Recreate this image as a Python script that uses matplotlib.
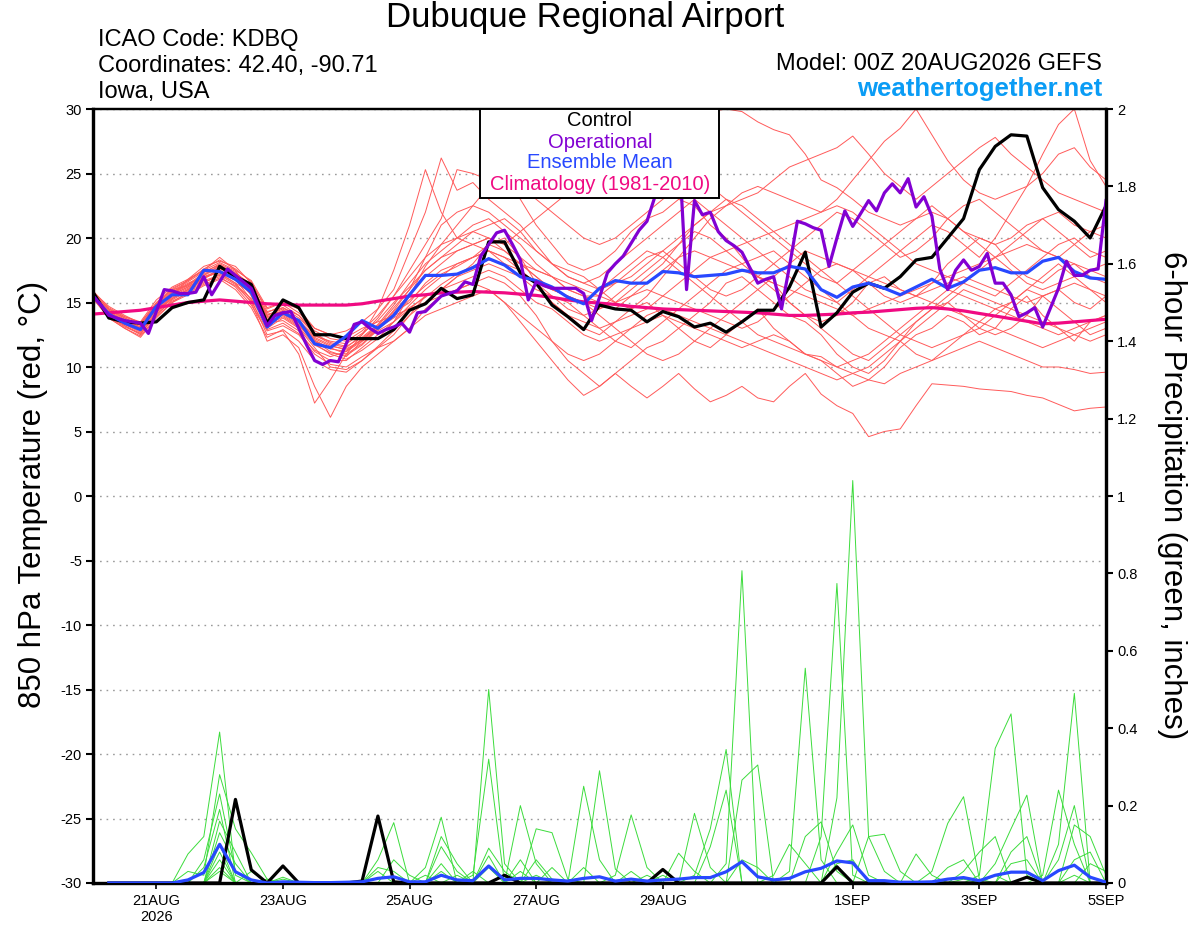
import matplotlib
matplotlib.use('Agg')
import matplotlib.pyplot as plt
from matplotlib.patches import Rectangle
import numpy as np
import pandas as pd

plt.rcParams['font.family'] = ['Liberation Sans', 'DejaVu Sans']

# time axes: 6-hourly ensemble, 3-hourly operational run
t6 = pd.date_range('2026-08-20 00:00', periods=65, freq='6h')
t3 = pd.date_range('2026-08-20 00:00', periods=129, freq='3h')
tp = t6[1:]

tick_dates = pd.to_datetime(['2026-08-21', '2026-08-23', '2026-08-25', '2026-08-27',
                             '2026-08-29', '2026-09-01', '2026-09-03', '2026-09-05'])
tick_labels = ['21AUG\n2026', '23AUG', '25AUG', '27AUG', '29AUG', '1SEP', '3SEP', '5SEP']

# 850 hPa temperature (C)
control_t = [15.8, 13.8, 13.5, 13.4, 13.5, 14.6, 15.0, 15.2, 17.8, 17.0, 16.4, 13.4, 15.2,
             14.6, 12.5, 12.5, 12.2, 12.2, 12.2, 12.9, 14.4, 14.9, 16.1, 15.3, 15.6, 19.7,
             19.7, 17.3, 16.5, 14.8, 13.9, 12.9, 14.8, 14.5, 14.4, 13.5, 14.3, 13.9, 13.1,
             13.4, 12.7, 13.5, 14.4, 14.4, 16.2, 18.9, 13.1, 14.2, 15.8, 16.5, 16.1, 17.0,
             18.3, 18.5, 20.0, 21.5, 25.3, 27.1, 28.0, 27.9, 23.9, 22.2, 21.3, 20.0, 22.5]

mean_t = [15.5, 14.1, 13.4, 12.9, 14.7, 15.6, 15.6, 17.5, 17.4, 16.8, 15.8, 13.1, 14.2,
          13.6, 11.8, 11.5, 12.4, 13.6, 13.0, 14.0, 15.6, 17.1, 17.1, 17.2, 17.7, 18.4,
          17.9, 17.0, 16.7, 16.2, 15.4, 14.9, 16.1, 16.7, 16.5, 16.5, 17.4, 17.3, 17.0,
          17.1, 17.2, 17.5, 17.3, 17.3, 17.8, 17.6, 16.0, 15.4, 16.2, 16.5, 16.1, 15.6,
          16.2, 16.8, 16.1, 16.6, 17.5, 17.7, 17.3, 17.3, 18.2, 18.5, 17.4, 16.9, 16.8]

clim_t = [14.1, 14.2, 14.3, 14.4, 14.6, 14.8, 15.0, 15.1, 15.2, 15.1, 15.0, 14.9, 14.85,
          14.8, 14.8, 14.8, 14.8, 14.9, 15.1, 15.3, 15.5, 15.6, 15.75, 15.8, 15.85, 15.8,
          15.75, 15.65, 15.55, 15.4, 15.2, 15.05, 14.95, 14.85, 14.7, 14.6, 14.5, 14.45, 14.4,
          14.35, 14.3, 14.25, 14.2, 14.1, 14.0, 14.0, 14.05, 14.1, 14.2, 14.25, 14.35, 14.45,
          14.55, 14.6, 14.5, 14.35, 14.15, 13.95, 13.75, 13.55, 13.35, 13.4, 13.5, 13.6, 13.7]

oper_t = [15.5, 14.8, 14.0, 13.8, 13.6, 13.5, 13.4, 12.6, 14.3, 16.0,
          15.9, 15.7, 15.7, 15.8, 17.0, 15.6, 16.6, 17.6, 17.1, 16.6,
          16.1, 14.6, 13.2, 14.0, 14.2, 14.3, 13.0, 11.7, 10.5, 10.2,
          10.5, 10.4, 11.8, 13.3, 13.5, 13.0, 12.6, 12.9, 13.1, 13.4,
          12.7, 14.2, 14.3, 14.9, 15.5, 15.7, 15.9, 16.6, 16.4, 18.6,
          19.5, 20.4, 20.6, 19.5, 18.3, 15.2, 16.6, 16.3, 16.1, 16.1,
          16.1, 16.1, 15.7, 13.6, 15.4, 17.3, 18.0, 18.6, 19.6, 20.6,
          21.3, 23.2, 25.5, 27.0, 27.5, 16.0, 22.9, 21.8, 22.0, 20.5,
          19.8, 19.4, 18.9, 17.7, 16.5, 16.8, 17.0, 14.5, 17.8, 21.3,
          21.1, 20.8, 20.6, 17.8, 20.0, 22.1, 20.9, 21.9, 22.9, 22.1,
          23.5, 24.2, 23.5, 24.6, 22.4, 23.2, 21.7, 17.6, 16.0, 17.5,
          18.3, 17.5, 17.8, 18.8, 16.5, 16.5, 15.6, 13.9, 14.2, 14.6,
          13.1, 14.6, 16.1, 18.2, 17.1, 17.1, 17.5, 17.6, 22.9]

members_t = [
    [15.8, 14.5, 13.8, 13.2, 14.9, 16.0, 16.3, 17.2, 17.8, 17.0, 16.0, 14.0, 14.5,
     13.5, 12.0, 11.2, 10.8, 12.0, 12.8, 13.5, 15.5, 17.8, 19.5, 21.0, 22.5, 24.0,
     24.5, 23.0, 21.0, 19.5, 18.0, 17.5, 18.0, 19.0, 20.5, 21.5, 22.0, 23.0, 22.5,
     21.0, 20.0, 18.5, 17.0, 16.5, 15.0, 14.0, 13.5, 14.0, 15.0, 16.5, 17.0, 16.0,
     15.5, 16.5, 18.0, 19.0, 20.0, 19.5, 18.0, 17.0, 16.5, 17.5, 18.0, 17.0, 16.5],
    [15.6, 14.0, 13.2, 12.5, 14.2, 15.5, 16.8, 17.5, 18.5, 17.5, 15.5, 13.0, 13.8,
     13.0, 11.5, 10.0, 9.8, 10.5, 11.5, 12.5, 14.0, 15.5, 16.0, 17.0, 18.0, 19.5,
     20.0, 18.5, 16.5, 15.0, 14.0, 13.0, 12.5, 13.5, 14.5, 15.0, 14.0, 13.0, 12.0,
     11.5, 12.5, 13.5, 14.5, 13.0, 12.0, 11.0, 10.5, 9.5, 8.5, 9.0, 10.0, 11.5,
     12.5, 13.0, 14.0, 13.5, 12.5, 13.0, 14.5, 15.5, 14.0, 13.0, 12.0, 13.5, 14.0],
    [15.4, 13.8, 13.0, 12.3, 13.8, 15.0, 15.8, 16.5, 17.2, 16.5, 15.0, 12.0, 12.5,
     11.5, 8.5, 6.1, 8.5, 10.0, 11.0, 12.0, 13.0, 14.5, 15.5, 16.0, 16.5, 17.0,
     16.5, 15.5, 14.0, 12.0, 10.5, 9.5, 8.5, 9.5, 10.5, 11.5, 12.0, 13.0, 14.0,
     15.0, 16.5, 17.0, 16.0, 15.0, 14.0, 13.5, 12.5, 11.0, 10.0, 9.5, 10.5, 12.0,
     13.5, 14.5, 15.0, 14.0, 13.0, 12.5, 13.0, 14.0, 15.5, 16.0, 15.0, 14.5, 15.5],
    [15.7, 14.2, 13.5, 12.8, 14.5, 15.8, 16.5, 17.0, 17.5, 16.8, 15.2, 12.5, 12.8,
     11.0, 7.2, 9.0, 11.0, 12.5, 14.5, 17.5, 21.0, 25.3, 22.0, 20.0, 19.5, 19.0,
     18.5, 18.0, 17.5, 17.0, 16.0, 15.5, 15.5, 16.5, 17.5, 18.5, 19.0, 18.0, 17.0,
     16.0, 15.5, 16.0, 17.0, 18.0, 19.0, 20.0, 21.0, 22.0, 21.5, 20.5, 19.5, 18.5,
     19.0, 20.0, 21.5, 22.5, 23.0, 22.0, 21.0, 20.0, 19.0, 18.5, 19.5, 20.5, 21.0],
    [15.9, 14.6, 13.9, 13.5, 15.2, 16.2, 16.8, 17.8, 18.2, 17.8, 16.5, 14.5, 15.0,
     14.5, 13.0, 12.5, 12.8, 13.5, 14.5, 16.0, 19.0, 22.0, 26.2, 23.7, 24.3, 23.0,
     22.0, 21.0, 19.5, 18.0, 17.5, 17.0, 16.0, 15.0, 14.5, 15.5, 17.0, 18.5, 20.0,
     21.5, 22.5, 23.5, 24.0, 23.5, 23.0, 22.5, 22.0, 23.0, 24.5, 26.0, 27.5, 28.5,
     30.0, 28.0, 26.0, 24.5, 23.5, 23.0, 23.5, 24.0, 25.0, 26.5, 27.0, 25.5, 24.5],
    [15.5, 14.3, 13.6, 13.0, 14.6, 15.6, 16.2, 17.0, 17.3, 16.5, 15.8, 13.5, 14.0,
     13.2, 12.0, 11.5, 11.0, 11.8, 13.0, 14.2, 15.0, 16.5, 17.5, 18.0, 18.5, 19.0,
     18.0, 17.0, 16.0, 15.5, 15.0, 14.0, 13.0, 12.0, 11.5, 12.5, 13.5, 14.5, 15.5,
     16.5, 17.5, 18.0, 18.5, 19.0, 18.0, 17.0, 16.0, 15.0, 14.0, 13.0, 12.5, 12.0,
     11.0, 10.5, 11.5, 12.5, 13.5, 14.5, 15.0, 16.0, 15.5, 14.5, 13.5, 12.5, 13.0],
    [15.6, 14.1, 13.4, 12.9, 14.4, 15.4, 16.0, 16.8, 17.6, 17.2, 16.2, 14.2, 14.8,
     14.0, 12.5, 11.8, 11.5, 12.5, 13.8, 15.5, 17.0, 18.5, 19.5, 20.0, 20.5, 20.0,
     19.5, 20.5, 21.5, 22.5, 23.5, 24.5, 25.0, 25.5, 26.5, 27.5, 28.5, 29.0, 29.5,
     29.8, 30.0, 29.8, 29.0, 28.4, 28.0, 26.5, 24.5, 23.9, 23.0, 22.0, 21.5, 21.0,
     21.5, 22.0, 21.5, 20.5, 20.0, 19.5, 20.0, 21.0, 21.5, 22.0, 21.0, 20.5, 20.0],
    [15.3, 13.9, 13.1, 12.6, 14.0, 15.2, 15.9, 16.6, 17.0, 16.2, 14.8, 12.8, 13.2,
     12.5, 11.0, 10.2, 10.0, 10.8, 11.5, 12.0, 13.0, 14.0, 14.5, 15.0, 15.5, 16.0,
     15.0, 13.5, 12.0, 10.5, 9.0, 7.8, 8.5, 9.5, 8.5, 7.6, 8.5, 9.5, 8.3,
     7.3, 7.8, 8.5, 7.6, 7.3, 8.5, 9.5, 7.9, 7.0, 6.4, 4.6, 5.0, 5.2,
     7.0, 8.7, 8.6, 8.5, 8.3, 8.2, 8.1, 7.8, 7.6, 7.1, 6.6, 6.8, 6.9],
    [15.5, 14.0, 13.3, 12.7, 14.3, 15.3, 16.0, 16.9, 17.4, 16.8, 15.6, 13.4, 13.6,
     12.8, 11.2, 10.5, 10.5, 11.5, 12.5, 13.5, 14.5, 15.5, 16.0, 16.5, 17.0, 17.5,
     17.0, 16.0, 15.0, 14.5, 13.5, 12.5, 12.0, 12.5, 13.0, 13.5, 14.0, 13.5, 13.0,
     12.5, 12.0, 11.5, 12.0, 12.5, 12.0, 11.0, 10.8, 10.0, 9.5, 9.0, 8.7, 9.5,
     10.0, 10.5, 11.0, 11.5, 12.0, 11.5, 11.0, 10.5, 10.0, 10.0, 9.8, 9.5, 9.6],
    [15.7, 14.4, 13.7, 13.1, 14.8, 15.9, 16.6, 17.4, 17.9, 17.3, 16.4, 13.9, 14.3,
     13.6, 12.4, 12.0, 11.8, 12.6, 13.6, 15.0, 16.2, 17.5, 18.5, 19.5, 20.5, 21.0,
     21.5, 20.5, 19.0, 18.0, 17.0, 16.5, 17.0, 18.0, 19.0, 20.0, 21.0, 22.0, 23.0,
     22.0, 22.5, 23.0, 23.5, 24.5, 25.5, 26.0, 26.5, 27.0, 27.9, 26.5, 25.0, 24.0,
     23.0, 24.0, 25.0, 26.0, 27.0, 27.8, 26.5, 25.5, 24.5, 23.5, 23.0, 22.5, 22.0],
    [15.4, 13.9, 13.2, 12.6, 14.1, 15.1, 15.7, 16.4, 16.9, 16.3, 15.1, 12.9, 13.4,
     12.6, 11.3, 10.8, 11.2, 12.2, 13.2, 14.0, 15.2, 16.3, 17.2, 17.8, 18.5, 19.5,
     19.0, 18.0, 17.0, 16.0, 15.5, 15.0, 14.5, 15.0, 15.5, 16.0, 15.5, 15.0, 14.5,
     14.0, 13.5, 13.0, 13.5, 14.5, 15.5, 16.5, 17.5, 18.0, 17.5, 16.5, 15.5, 15.0,
     15.5, 16.0, 16.5, 17.0, 16.5, 16.0, 15.5, 15.0, 15.5, 16.0, 16.5, 16.0, 15.5],
    [15.8, 14.7, 14.0, 13.4, 15.0, 16.1, 16.7, 17.6, 18.3, 17.6, 16.6, 14.3, 14.6,
     13.8, 12.6, 11.9, 11.6, 12.3, 13.3, 14.8, 16.5, 18.0, 19.0, 20.0, 21.0, 21.5,
     20.5, 19.5, 18.0, 17.0, 16.5, 16.0, 15.5, 15.0, 16.0, 17.0, 18.0, 19.5, 21.0,
     22.0, 21.0, 20.0, 19.0, 18.0, 17.0, 16.0, 15.5, 15.0, 16.0, 17.0, 18.0, 19.0,
     20.0, 21.0, 20.5, 19.5, 18.5, 20.0, 22.0, 24.0, 26.5, 28.8, 30.0, 26.0, 24.0],
    [15.5, 14.2, 13.5, 13.0, 14.4, 15.5, 16.1, 16.9, 17.5, 16.9, 15.9, 13.7, 14.1,
     13.3, 11.8, 11.0, 10.6, 11.3, 12.2, 13.5, 14.8, 16.0, 17.0, 18.0, 18.5, 19.0,
     18.5, 17.5, 16.5, 15.0, 14.0, 13.5, 13.0, 13.5, 14.0, 14.5, 15.5, 16.5, 17.5,
     18.5, 19.0, 19.5, 20.0, 20.5, 21.0, 21.5, 22.0, 22.5, 22.0, 21.0, 20.0, 19.0,
     18.0, 17.5, 17.0, 16.5, 16.0, 15.5, 16.5, 17.5, 18.5, 19.5, 20.0, 19.0, 18.5],
    [15.6, 14.3, 13.6, 13.1, 14.7, 15.7, 16.4, 17.3, 18.0, 17.4, 16.1, 14.0, 14.6,
     14.0, 12.8, 12.2, 12.0, 12.8, 14.0, 15.5, 17.5, 19.5, 21.5, 25.3, 25.0, 24.5,
     25.0, 24.0, 23.0, 22.0, 21.0, 20.0, 19.5, 20.0, 21.0, 22.0, 23.0, 24.0, 25.0,
     24.0, 23.0, 22.0, 21.0, 20.0, 19.0, 18.0, 17.0, 16.5, 17.5, 18.5, 19.5, 20.5,
     21.5, 22.5, 21.5, 20.5, 19.5, 18.5, 17.5, 16.5, 16.0, 16.5, 17.0, 17.5, 17.0],
    [15.3, 13.8, 13.0, 12.4, 13.9, 15.0, 15.6, 16.3, 16.8, 16.0, 14.6, 12.3, 12.9,
     12.0, 10.5, 9.8, 9.6, 10.5, 11.6, 12.8, 14.0, 15.0, 15.5, 16.0, 16.5, 16.0,
     15.0, 14.0, 13.0, 12.0, 11.0, 10.5, 11.0, 12.0, 13.0, 14.0, 14.5, 14.0, 13.5,
     13.0, 12.5, 12.0, 11.5, 11.0, 10.5, 10.0, 9.5, 9.0, 9.5, 10.0, 11.0, 12.0,
     13.0, 14.0, 15.0, 16.0, 15.5, 15.0, 14.5, 14.0, 13.5, 13.0, 12.5, 12.0, 12.5],
    [15.6, 14.4, 13.8, 13.3, 14.8, 15.8, 16.4, 17.1, 17.7, 17.1, 16.3, 14.1, 14.3,
     13.5, 12.2, 11.6, 11.4, 12.1, 13.1, 14.3, 15.6, 17.0, 18.0, 19.0, 19.5, 20.0,
     19.5, 18.5, 17.5, 17.0, 16.0, 15.5, 15.0, 14.5, 15.5, 16.5, 17.5, 18.5, 19.0,
     18.5, 18.0, 17.5, 17.0, 16.5, 16.0, 15.5, 15.0, 14.5, 14.0, 14.5, 15.0, 15.5,
     16.0, 16.5, 17.0, 17.5, 18.0, 18.5, 19.0, 19.5, 19.0, 18.5, 18.0, 17.5, 18.0],
    [15.7, 14.5, 13.9, 13.4, 14.9, 16.0, 16.7, 17.5, 18.1, 17.5, 16.7, 14.6, 15.0,
     14.2, 13.0, 12.5, 12.3, 13.0, 13.5, 14.0, 14.5, 15.0, 16.0, 17.0, 17.5, 18.0,
     17.5, 17.0, 16.5, 16.0, 15.5, 15.0, 14.0, 13.0, 12.0, 11.0, 10.5, 11.0, 12.0,
     13.0, 14.0, 15.0, 16.0, 17.0, 18.0, 19.0, 18.5, 18.0, 17.5, 17.0, 16.5, 16.0,
     15.5, 15.0, 14.5, 14.0, 13.5, 13.0, 12.5, 12.0, 11.5, 12.0, 12.5, 13.0, 13.5],
    [15.4, 14.0, 13.3, 12.8, 14.2, 15.3, 16.0, 16.7, 17.1, 16.4, 15.3, 13.2, 13.9,
     13.1, 11.7, 11.1, 10.9, 11.7, 12.9, 14.4, 16.0, 18.5, 21.0, 22.0, 22.5, 22.0,
     21.0, 20.0, 19.0, 18.0, 17.0, 16.5, 16.0, 16.5, 17.0, 18.0, 19.0, 20.0, 21.0,
     22.0, 23.0, 22.5, 21.5, 20.5, 19.5, 18.5, 17.5, 16.5, 15.5, 14.5, 13.5, 12.5,
     12.0, 11.5, 12.0, 12.5, 13.0, 14.0, 15.0, 16.0, 17.0, 18.0, 17.0, 16.0, 15.0],
    [15.6, 14.2, 13.4, 12.9, 14.5, 15.6, 16.2, 16.9, 17.4, 16.7, 15.7, 13.6, 14.2,
     13.4, 12.1, 11.4, 11.2, 12.0, 13.0, 13.8, 14.6, 15.4, 16.4, 17.2, 17.8, 18.3,
     18.0, 17.5, 16.5, 15.5, 14.5, 14.0, 14.5, 15.5, 16.5, 17.5, 18.5, 19.5, 20.5,
     20.0, 19.0, 18.0, 17.0, 16.0, 15.0, 14.0, 13.0, 12.0, 11.0, 10.5, 11.5, 12.5,
     13.5, 14.5, 15.5, 16.5, 17.5, 18.5, 19.5, 20.5, 21.5, 20.5, 19.5, 18.5, 19.0],
    [15.5, 14.1, 13.5, 13.0, 14.6, 15.7, 16.3, 17.1, 17.9, 17.2, 16.0, 13.8, 14.4,
     13.6, 12.3, 11.7, 11.3, 12.1, 13.2, 14.6, 16.0, 17.5, 18.5, 19.0, 19.5, 20.0,
     19.0, 18.0, 17.0, 16.0, 15.5, 15.0, 16.0, 17.0, 18.0, 19.0, 18.5, 17.5, 16.5,
     15.5, 14.5, 13.5, 12.5, 12.0, 11.5, 11.0, 10.5, 10.0, 10.5, 11.0, 12.0, 13.0,
     14.0, 15.0, 16.0, 15.5, 15.0, 14.5, 14.0, 13.5, 13.0, 12.5, 13.0, 13.5, 14.0],
]

# 6-hour precipitation (inches), steps 1..64
control_p = [0, 0, 0, 0, 0, 0, 0, 0,
             .216, .034, 0, .044, 0, 0, 0, 0,
             .005, .173, .003, 0, 0, 0, 0, 0,
             0, .02, 0, 0, 0, 0, 0, 0,
             0, 0, 0, .035, 0, 0, 0, 0,
             0, 0, 0, 0, 0, 0, .042, 0,
             0, 0, 0, 0, 0, 0, 0, 0,
             0, 0, .015, 0, 0, 0, 0, 0]

mean_p = [0, 0, 0, 0, 0, .008, .027, .10,
          .029, .008, 0, .003, .002, .001, .001, .002,
          .003, .012, .016, .003, .003, .02, .008, .006,
          .044, .008, .012, .012, .008, .005, .012, .016,
          .005, .01, .005, .008, .01, .014, .014, .029,
          .055, .016, .008, .012, .029, .038, .057, .052,
          .006, .006, .002, .002, .003, .01, .014, .006,
          .02, .028, .028, .006, .032, .046, .015, .002]

# member precipitation, (step, inches) where non-zero
members_p = [
    [(6, .075), (7, .12), (8, .39), (9, .02), (27, .20), (28, .05), (45, .12), (46, .158), (47, .03), (55, .01)],
    [(6, .03), (7, .02), (8, .28), (9, .14), (10, .078), (11, .01), (27, .03), (46, .12), (47, .774), (48, .02)],
    [(7, .06), (8, .23), (9, .03), (12, .01), (28, .02), (47, .22), (48, 1.04), (49, .12), (50, .126), (51, .03)],
    [(7, .04), (8, .19), (10, .03), (28, .14), (29, .13), (30, .01), (47, .08), (48, .15), (49, .02)],
    [(8, .16), (9, .08), (28, .06), (29, .01), (47, .05), (48, .06), (57, .02)],
    [(8, .13), (9, .05), (11, .01), (29, .04), (49, .12), (50, .03), (62, .02)],
    [(8, .10), (12, .015), (31, .25), (32, .06), (52, .075), (53, .02)],
    [(8, .08), (31, .04), (53, .03), (54, .154), (55, .223), (56, .01)],
    [(8, .06), (18, .06), (19, .156), (21, .02), (32, .29), (33, .036), (54, .04), (55, .06)],
    [(8, .04), (18, .04), (19, .03), (33, .02), (34, .176), (35, .04), (55, .03), (56, .08), (57, .12)],
    [(8, .03), (18, .03), (22, .05), (34, .03), (36, .02), (56, .02), (57, .348), (58, .437), (59, .02)],
    [(19, .06), (20, .02), (35, .02), (37, .077), (38, .03), (57, .05), (58, .14), (59, .227)],
    [(21, .04), (22, .17), (25, .04), (38, .18), (39, .04), (58, .08), (59, .12)],
    [(22, .12), (23, .05), (38, .02), (39, .14), (40, .345), (58, .05), (59, .06)],
    [(22, .094), (23, .03), (39, .094), (40, .24), (60, .02), (61, .24), (62, .10)],
    [(22, .03), (24, .03), (40, .05), (41, .807), (61, .10), (62, .49)],
    [(23, .02), (25, .50), (26, .05), (41, .266), (42, .305), (61, .06), (62, .20)],
    [(24, .02), (25, .32), (41, .06), (42, .04), (62, .15), (63, .12), (64, .02)],
    [(25, .09), (26, .03), (43, .02), (44, .10), (45, .05), (62, .06), (63, .08)],
    [(25, .07), (27, .06), (44, .03), (45, .555), (46, .06), (63, .05), (64, .03)],
]

RED = '#ff5a5a'
GREEN = '#3cdc3c'
PURPLE = '#8200d2'
BLUE = '#2848ff'
PINK = '#f00a82'

fig = plt.figure(figsize=(12, 9.27), dpi=100)
W, H = 1200, 927
ax = fig.add_axes([93 / W, 1 - 883 / H, (1106 - 93) / W, (883 - 109) / H])
ax2 = ax.twinx()

for m in members_t:
    ax.plot(t6, m, color=RED, lw=0.7, zorder=2)
ax.plot(t6, clim_t, color=PINK, lw=2.3, zorder=3)
ax.plot(t6, control_t, color='black', lw=2.3, zorder=4)
ax.plot(t6, mean_t, color=BLUE, lw=2.3, zorder=5)
ax.plot(t3, oper_t, color=PURPLE, lw=2.3, zorder=6)

for pairs in members_p:
    vals = np.zeros(len(tp))
    for k, v in pairs:
        vals[k - 1] = v
    ax2.plot(tp, vals, color=GREEN, lw=0.7, zorder=2)
ax2.plot(tp, control_p, color='black', lw=2.3, zorder=4)
ax2.plot(tp, mean_p, color=BLUE, lw=2.3, zorder=5)

ax.set_xlim(t6[0], t6[-1])
ax.set_ylim(-30, 30)
ax2.set_ylim(0, 2)

yt = np.arange(-30, 31, 5)
ax.set_yticks(yt)
ax.set_yticklabels([str(v) for v in yt], fontsize=10.5)
pt = np.arange(0, 2.01, 0.2)
ax2.set_yticks(pt)
ax2.set_yticklabels(['%g' % round(v, 1) for v in pt], fontsize=10.5)
ax.set_xticks(tick_dates)
ax.set_xticklabels(tick_labels, fontsize=10.5, linespacing=1.2)

ax.yaxis.grid(True, linestyle=(0, (1.2, 3.5)), color='#9a9a9a', lw=1)
ax.tick_params(axis='y', direction='out', length=5, width=1.5, pad=3)
ax.tick_params(axis='x', direction='out', length=4, width=1.2, pad=4)
ax2.tick_params(axis='y', direction='out', length=5, width=1.5, pad=3)

for a in (ax, ax2):
    for s in ('left', 'right', 'bottom'):
        a.spines[s].set_linewidth(2.3)
    a.spines['top'].set_linewidth(1.6)

# header text
fig.text(585 / W, 1 - 18 / H, 'Dubuque Regional Airport', fontsize=25, ha='center', va='center')
fig.text(98 / W, 1 - 40 / H, 'ICAO Code: KDBQ', fontsize=17, ha='left', va='center')
fig.text(98 / W, 1 - 66 / H, 'Coordinates: 42.40, -90.71', fontsize=17, ha='left', va='center')
fig.text(98 / W, 1 - 92 / H, 'Iowa, USA', fontsize=17, ha='left', va='center')
fig.text(1102 / W, 1 - 64 / H, 'Model: 00Z 20AUG2026 GEFS', fontsize=17, ha='right', va='center')
fig.text(1102 / W, 1 - 89 / H, 'weathertogether.net', fontsize=18.5, ha='right', va='center',
         color='#0a9cf5', fontweight='bold')

fig.text(33 / W, 1 - 494 / H, '850 hPa Temperature (red, °C)', fontsize=22.5, rotation=90,
         ha='center', va='center')
fig.text(1172 / W, 1 - 495 / H, '6-hour Precipitation (green, inches)', fontsize=22.5, rotation=270,
         ha='center', va='center')

# legend box
fig.add_artist(Rectangle((480 / W, 1 - 198 / H), (719 - 480) / W, (198 - 109) / H,
                         transform=fig.transFigure, facecolor='white', edgecolor='black',
                         lw=1.4, zorder=5))
legend_items = [('Control', 'black', 121), ('Operational', PURPLE, 142),
                ('Ensemble Mean', BLUE, 163), ('Climatology (1981-2010)', PINK, 185)]
for label, col, y in legend_items:
    fig.text(600 / W, 1 - y / H, label, fontsize=14.5, color=col, ha='center', va='center', zorder=6)

fig.savefig('out.png', dpi=100)
